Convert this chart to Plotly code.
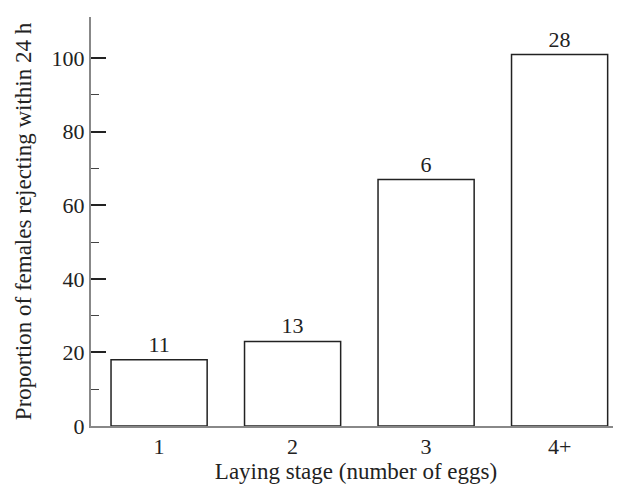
import plotly.graph_objects as go

categories = ["1", "2", "3", "4+"]
proportions = [18, 23, 67, 101]
sample_sizes = ["11", "13", "6", "28"]

FONT = "Liberation Serif"
INK = "#222"

fig = go.Figure()
fig.add_trace(go.Bar(
    x=categories,
    y=proportions,
    text=sample_sizes,
    textposition="outside",
    textfont=dict(family=FONT, size=22, color=INK),
    marker=dict(color="white", line=dict(color=INK, width=1.5)),
    width=0.72,
    cliponaxis=False,
))

fig.update_layout(
    width=613, height=480,
    margin=dict(l=83, r=0, t=9, b=62),
    paper_bgcolor="white", plot_bgcolor="white",
    font=dict(family=FONT, size=22, color=INK),
    showlegend=False,
    xaxis=dict(
        range=[-0.51, 3.46],
        showline=True, linecolor="#888", linewidth=2,
        ticks="", showgrid=False, zeroline=False,
        tickfont=dict(family=FONT, size=22, color=INK),
        title=dict(text="Laying stage (number of eggs)", standoff=4,
                   font=dict(family=FONT, size=23, color=INK)),
    ),
    yaxis=dict(
        range=[0, 111.2],
        showline=True, linecolor="#888", linewidth=2,
        ticks="inside", ticklen=15, tickwidth=1.5, tickcolor=INK,
        tickvals=[0, 20, 40, 60, 80, 100],
        minor=dict(ticks="inside", tickvals=[10, 30, 50, 70, 90], ticklen=8,
                   tickwidth=1, tickcolor="#444", showgrid=False),
        showgrid=False, zeroline=False,
        tickfont=dict(family=FONT, size=22, color=INK),
        title=dict(text="Proportion of females rejecting within 24 h", standoff=14,
                   font=dict(family=FONT, size=23, color=INK)),
    ),
)

fig.write_html("out.html")
